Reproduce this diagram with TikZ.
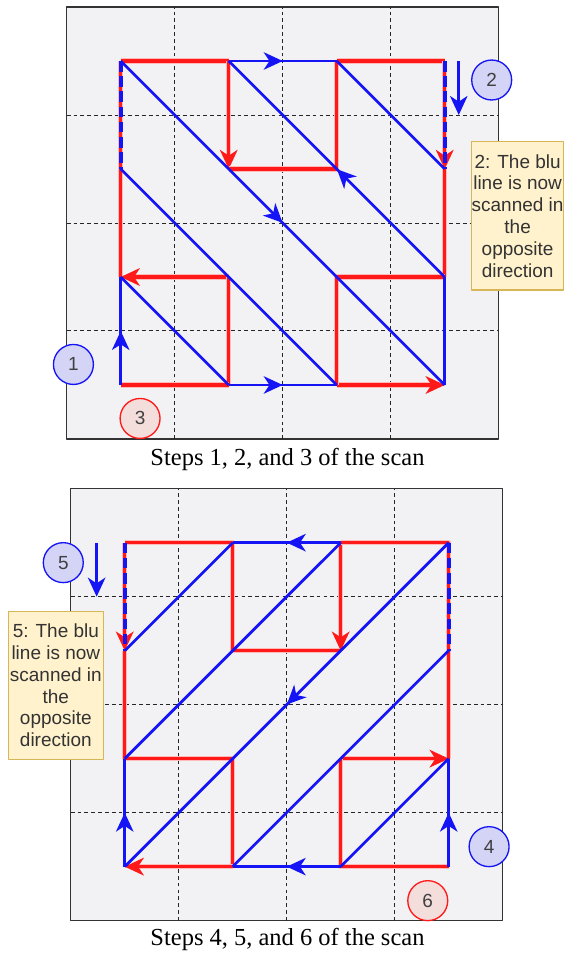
\documentclass[tikz,border=0pt]{standalone}
\usepackage{fontspec}
\setmainfont{Liberation Serif}
\newfontfamily\drawfont{Liberation Sans}
\usetikzlibrary{arrows.meta,decorations.markings}

\definecolor{panelgray}{RGB}{242,242,245}
\definecolor{scanred}{RGB}{255,25,25}
\definecolor{scanblue}{RGB}{20,20,245}
\definecolor{stepblue}{RGB}{212,212,246}
\definecolor{stepred}{RGB}{244,222,220}
\definecolor{notefill}{RGB}{255,242,204}
\definecolor{noteline}{RGB}{214,182,86}

\tikzset{
  panel/.style={draw=black!80, fill=panelgray, line width=0.4pt},
  gridline/.style={black!85, line width=0.26pt, dash pattern=on 1pt off 0.8pt},
  redline/.style={draw=scanred, line width=0.8pt, preaction={draw=scanred!30, line width=1.4pt}},
  redarrow/.style={redline, -{Stealth[length=5pt, width=4.6pt, inset=1.5pt]}},
  blueline/.style={draw=scanblue, line width=0.7pt},
  bluearrow/.style={blueline, -{Stealth[length=5pt, width=4.6pt, inset=1.5pt]}},
  bluemid/.style={blueline, postaction={decorate}, decoration={markings,
      mark=at position 0.5 with {\arrow{Stealth[length=5pt, width=4.6pt, inset=1.5pt]}}}},
  bluedash/.style={draw=scanblue, line width=0.95pt, dash pattern=on 2.8pt off 1.2pt},
  stepcirc/.style={circle, draw=scanblue, fill=stepblue, line width=0.35pt,
      minimum size=0.37cm, inner sep=0pt, font=\drawfont\fontsize{5}{5}\selectfont, text=black!75},
  stepcircred/.style={stepcirc, draw=scanred, fill=stepred},
  notebox/.style={draw=noteline, fill=notefill, line width=0.3pt, inner sep=0pt,
      align=center, text=black!80, font=\drawfont\fontsize{5}{5.75}\selectfont},
  caption/.style={anchor=base, font=\fontsize{6.45}{7}\selectfont}
}

\begin{document}
\begin{tikzpicture}[line join=round]
    \useasboundingbox (-0.618,-4.769) rectangle (4.614,4.065);

    % steps 1, 2 and 3
    \draw[panel] (0,0) rectangle (4,4);
    \foreach \k in {1,2,3} {
        \draw[gridline] (\k,0) -- (\k,4);
        \draw[gridline] (0,\k) -- (4,\k);
    }
    \foreach \i in {0,...,3} \foreach \j in {0,...,3}
        \coordinate (t\i\j) at (\i+0.5,\j+0.5);

    \draw[redline] (t03) -- (t13);
    \draw[redline] (t23) -- (t33);
    \draw[redarrow] (t13) -- (t12);
    \draw[redline] (t12) -- (t22) -- (t23);
    \draw[redarrow] (t33) -- (t32);
    \draw[redline] (t32) -- (t31);
    \draw[redline] (t03) -- (t01);
    \draw[redarrow] (t11) -- (t01);
    \draw[redline] (t11) -- (t10);
    \draw[redline] (t00) -- (t10);
    \draw[redarrow] (t20) -- (t30);
    \draw[redline] (t31) -- (t21) -- (t20);

    \draw[bluemid] (t13) -- (t23);
    \draw[bluemid] (t10) -- (t20);
    \draw[bluemid] (t00) -- (t01);
    \draw[blueline] (t30) -- (t31);
    \draw[bluemid] (t03) -- (t30);
    \draw[bluemid] (t31) -- (t13);
    \draw[blueline] (t23) -- (t32);
    \draw[blueline] (t02) -- (t20);
    \draw[blueline] (t01) -- (t10);
    \draw[bluedash] (t03) -- (t02);
    \draw[bluedash] (t33) -- (t32);

    \coordinate (s2from) at (3.63,3.5);
    \coordinate (s2to) at (3.63,3.0);
    \draw[bluearrow] (s2from) -- (s2to);
    \node[stepcirc] (c2) at (3.935,3.324) {2};
    \node[notebox, minimum width=0.85cm, minimum height=1.373cm] (n2) at (4.175,2.066)
        {2: The blu\\line is now\\scanned in\\the\\opposite\\direction};
    \node[stepcirc] (c1) at (0.062,0.69) {1};
    \node[stepcircred] (c3) at (0.679,0.19) {3};
    \node[caption] (cap1) at (2.044,-0.25) {Steps 1, 2, and 3 of the scan};

    % steps 4, 5 and 6
    \begin{scope}[shift={(0.037,-4.46)}]
        \draw[panel] (0,0) rectangle (4,4);
        \foreach \k in {1,2,3} {
            \draw[gridline] (\k,0) -- (\k,4);
            \draw[gridline] (0,\k) -- (4,\k);
        }
        \foreach \i in {0,...,3} \foreach \j in {0,...,3}
            \coordinate (b\i\j) at (\i+0.5,\j+0.5);

        \draw[redline] (b03) -- (b13) -- (b12) -- (b22);
        \draw[redarrow] (b23) -- (b22);
        \draw[redline] (b23) -- (b33) -- (b31);
        \draw[redarrow] (b03) -- (b02);
        \draw[redline] (b02) -- (b01) -- (b11) -- (b10);
        \draw[redarrow] (b10) -- (b00);
        \draw[redarrow] (b21) -- (b31);
        \draw[redline] (b21) -- (b20) -- (b30);

        \draw[bluemid] (b23) -- (b13);
        \draw[bluemid] (b20) -- (b10);
        \draw[bluemid] (b00) -- (b01);
        \draw[bluemid] (b30) -- (b31);
        \draw[bluemid] (b33) -- (b00);
        \draw[blueline] (b02) -- (b13);
        \draw[blueline] (b01) -- (b23);
        \draw[blueline] (b32) -- (b10);
        \draw[blueline] (b20) -- (b31);
        \draw[bluedash] (b03) -- (b02);
        \draw[bluedash] (b33) -- (b32);

        \coordinate (s5from) at (0.24,3.5);
        \coordinate (s5to) at (0.24,3.0);
        \draw[bluearrow] (s5from) -- (s5to);
        \node[stepcirc] (c5) at (-0.069,3.315) {5};
        \node[notebox, minimum width=0.88cm, minimum height=1.367cm] (n5) at (-0.138,2.178)
            {5: The blu\\line is now\\scanned in\\the\\opposite\\direction};
        \node[stepcirc] (c4) at (3.874,0.685) {4};
        \node[stepcircred] (c6) at (3.306,0.185) {6};
        \node[caption] (cap2) at (2.007,-0.234) {Steps 4, 5, and 6 of the scan};
    \end{scope}
\end{tikzpicture}
\end{document}
